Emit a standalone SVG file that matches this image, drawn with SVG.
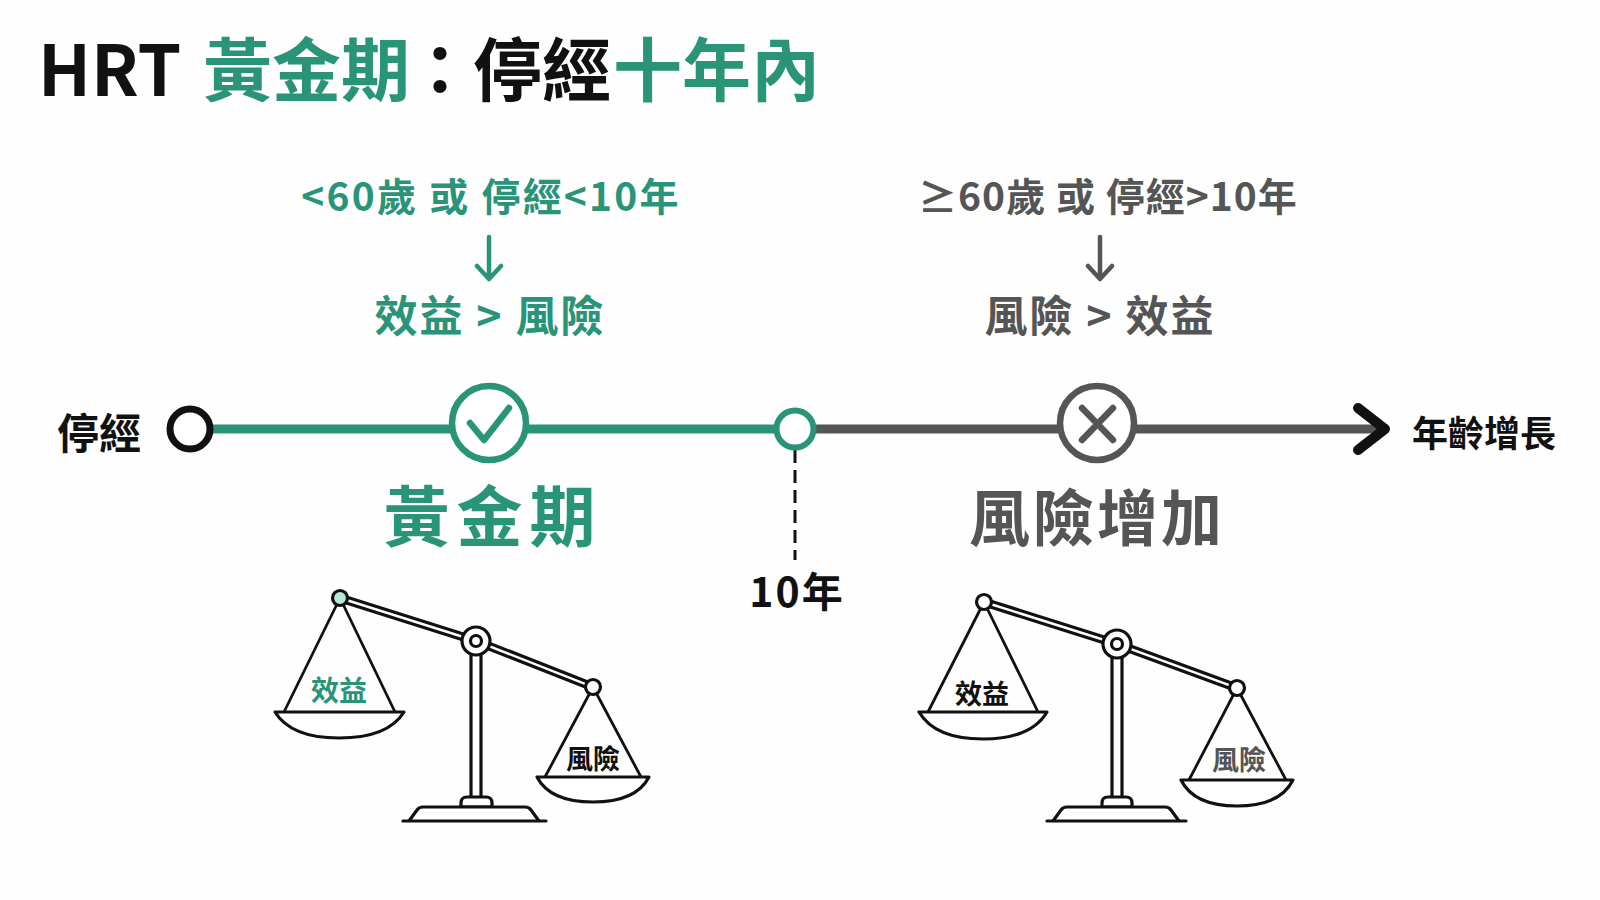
<svg xmlns="http://www.w3.org/2000/svg" width="1600" height="900" viewBox="0 0 1600 900">
<style>
text{font-family:"Noto Sans CJK TC","Noto Sans",sans-serif;font-weight:700}
.g{fill:#2a9478}.s{fill:#555}.k{fill:#111}
.m{text-anchor:middle}
.ln{fill:none;stroke-linecap:round;stroke-linejoin:round}
.sc{fill:#fff;stroke:#111;stroke-width:3.2;stroke-linejoin:round}
.sl{fill:none;stroke:#111;stroke-width:2.8;stroke-linecap:round}
.pan{font-size:27px}
.cond{font-size:39px;text-anchor:middle;letter-spacing:2.2px}
.res{font-size:43px;text-anchor:middle;letter-spacing:2px}
.ttl{font-size:69px}
</style>
<rect width="1600" height="900" fill="#fefefe"/>
<g id="title">
<text x="38" y="96" class="ttl k" style="font-size:70px">HRT</text>
<text x="203" y="96" class="ttl g">黃金期</text>
<text x="440" y="96" class="ttl k m">：</text>
<text x="473" y="96" class="ttl k">停經</text>
<text x="613" y="96" class="ttl g">十年內</text>
</g>
<g id="cond-left">
<text x="491" y="211" class="cond g">&lt;60歲 或 停經&lt;10年</text>
<path class="ln" d="M489 237V278M477 266L489 279L501 266" stroke="#2a9478" stroke-width="4.5"/>
<text x="490" y="332" class="res g">效益 &gt; 風險</text>
</g>
<g id="cond-right">
<text x="1108" y="211" class="cond s" style="letter-spacing:1px">≥60歲 或 停經&gt;10年</text>
<path class="ln" d="M1100 237V278M1088 266L1100 279L1112 266" stroke="#555" stroke-width="4.5"/>
<text x="1100" y="332" class="res s">風險 &gt; 效益</text>
</g>
<g id="connectors">
<path class="ln" d="M212 429H795" stroke="#2a9478" stroke-width="9"/>
<path class="ln" d="M795 429H1380" stroke="#555" stroke-width="9"/>
<path class="ln" d="M1358 408L1385 429L1358 450" stroke="#111" stroke-width="10"/>
<path d="M795 450V560" fill="none" stroke="#111" stroke-width="3" stroke-dasharray="13 7"/>
</g>
<g id="start"><text x="99" y="449" font-size="42" class="m k">停經</text><circle cx="190" cy="429" r="20" fill="#fff" stroke="#111" stroke-width="7"/></g>
<g id="check"><circle cx="489" cy="423" r="37" fill="#fff" stroke="#2a9478" stroke-width="6.5"/><path class="ln" d="M470 423L484 440L509 408" stroke="#2a9478" stroke-width="6.5"/></g>
<g id="ten"><circle cx="795" cy="429" r="18.5" fill="#fff" stroke="#2a9478" stroke-width="6"/><text x="797" y="607" font-size="41" class="m k" letter-spacing="2">10年</text></g>
<g id="cross"><circle cx="1097" cy="423" r="37" fill="#fff" stroke="#555" stroke-width="6.5"/><path class="ln" d="M1082 408L1113 440M1113 408L1082 440" stroke="#555" stroke-width="6.5"/></g>
<g id="end"><text x="1484" y="447" font-size="36" class="m k">年齡增長</text></g>
<g id="label-gold"><text x="493" y="541" font-size="66" class="m g" letter-spacing="7">黃金期</text></g>
<g id="label-risk"><text x="1097" y="541" font-size="61" class="m s" letter-spacing="3">風險增加</text></g>
<g id="scale-left">
<path class="sl" d="M340 598L284 712M340 598L395 712M593 687L545 777M593 687L641 777"/>
<path class="sc" d="M340 595L476 638L476 644L593 690L593 684L476 638L476 644L340 601Z"/>
<rect class="sc" x="471" y="648" width="10" height="152"/>
<path class="sc" d="M461 807V803Q461 797 467 797H486Q492 797 492 803V807Z"/>
<path class="sc" d="M409 821L417 810Q419 807 423 807H525Q529 807 531 810L539 821"/>
<path class="sl" d="M403 821H546" style="stroke-width:3.2"/>
<path class="sc" d="M275 712H404Q388 738 339 738Q291 738 275 712Z"/>
<path class="sc" d="M537 777H649Q636 802 593 802Q550 802 537 777Z"/>
<circle cx="340" cy="598" r="7.5" fill="#b5e8d8" stroke="#111" stroke-width="3.2"/>
<circle cx="593" cy="687" r="7.5" class="sc"/>
<circle cx="476" cy="641" r="14" class="sc"/><circle cx="476" cy="641" r="5.5" class="sc"/>
<text x="339" y="701" class="pan m g" style="font-size:28px">效益</text>
<text x="593" y="769" class="pan m k">風險</text>
</g>
<g id="scale-right">
<path class="sl" d="M984 602L928 712M984 602L1038 712M1237 688L1189 780M1237 688L1286 780"/>
<path class="sc" d="M984 599L1117 641L1117 647L1237 691L1237 685L1117 641L1117 647L984 605Z"/>
<rect class="sc" x="1112" y="651" width="10" height="149"/>
<path class="sc" d="M1102 807V803Q1102 797 1108 797H1126Q1132 797 1132 803V807Z"/>
<path class="sc" d="M1053 821L1061 810Q1063 807 1067 807H1165Q1169 807 1171 810L1179 821"/>
<path class="sl" d="M1047 821H1186" style="stroke-width:3.2"/>
<path class="sc" d="M919 712H1047Q1031 739 983 739Q935 739 919 712Z"/>
<path class="sc" d="M1181 780H1293Q1280 806 1237 806Q1194 806 1181 780Z"/>
<circle cx="984" cy="602" r="7.5" class="sc"/>
<circle cx="1237" cy="688" r="7.5" class="sc"/>
<circle cx="1117" cy="644" r="14" class="sc"/><circle cx="1117" cy="644" r="5.5" class="sc"/>
<text x="982" y="704" class="pan m k">效益</text>
<text x="1239" y="770" class="pan m s">風險</text>
</g>
</svg>
